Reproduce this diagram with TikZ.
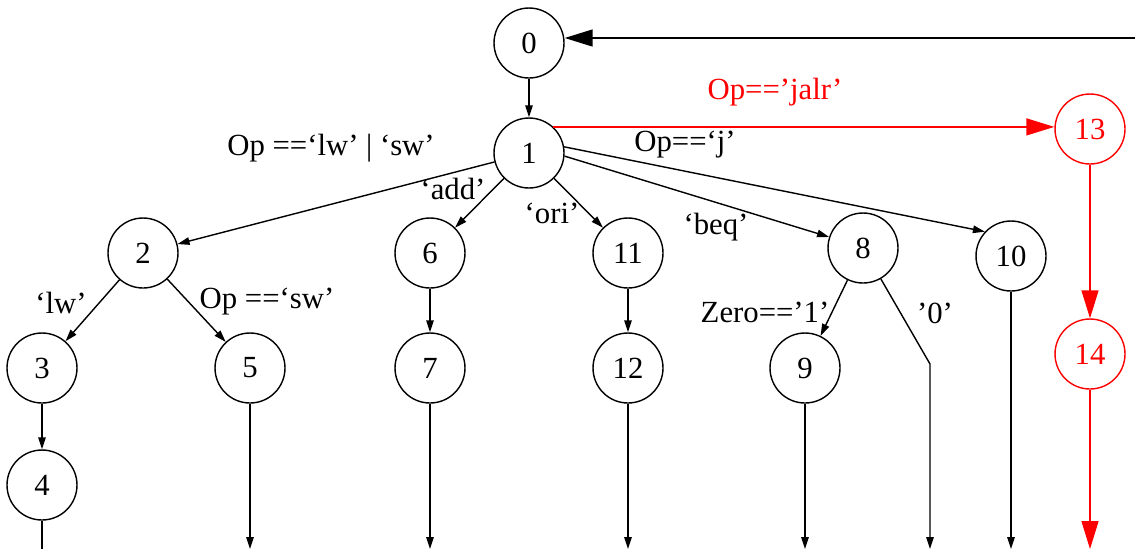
\documentclass[tikz,border=0pt]{standalone}
\usepackage{fontspec}
\setmainfont{Liberation Serif}
\usetikzlibrary{arrows.meta}
\tikzset{
	vert/.style={circle,inner sep=0pt,fill=white,draw,line width=0.8pt,minimum size=1.4cm,font=\fontsize{17.5}{20}\selectfont},
	redvert/.style={vert,draw=red,text=red},
	edge/.style={color=black,line width=0.8pt},
	diredge/.style={-{Triangle[length=0.24cm,width=0.15cm]},edge},
	bigedge/.style={-{Triangle[length=0.56cm,width=0.34cm]},edge},
	edgelabel/.style={inner sep=0pt,font=\fontsize{17.5}{20}\selectfont}
}

\begin{document}
\begin{tikzpicture}[x=0.02cm,y=-0.02cm]
				\useasboundingbox (0,0) rectangle (1135,549);
				%%%% states
				\node[vert] (s0) at (529,43) {0};
				\node[vert] (s1) at (529,153) {1};
				\node[vert] (s2) at (143,253) {2};
				\node[vert] (s6) at (430,253) {6};
				\node[vert] (s11) at (628,253) {11};
				\node[vert] (s8) at (863,248) {8};
				\node[vert] (s10) at (1011,256) {10};
				\node[vert] (s3) at (42,368) {3};
				\node[vert] (s5) at (250,368) {5};
				\node[vert] (s7) at (430,368) {7};
				\node[vert] (s12) at (628,368) {12};
				\node[vert] (s9) at (805,368) {9};
				\node[vert] (s4) at (42,485) {4};
				\node[redvert] (s13) at (1090,129) {13};
				\node[redvert] (s14) at (1090,354) {14};
				
				%%%% loose ends
				\coordinate (back) at (1135,38);
				\coordinate (bend0) at (930,364);
				\coordinate (bot) at (0,549);
				
				%%%% labels
				\node[edgelabel] (lmem) at (331,148) {Op ==‘lw’ | ‘sw’};
				\node[edgelabel] (ladd) at (453,189) {‘add’};
				\node[edgelabel] (lori) at (552,213) {‘ori’};
				\node[edgelabel] (lbeq) at (716,227) {‘beq’};
				\node[edgelabel] (lj) at (685,145) {Op==‘j’};
				\node[edgelabel,red] (ljalr) at (775,92) {Op==’jalr’};
				\node[edgelabel] (llw) at (61,303) {‘lw’};
				\node[edgelabel] (lsw) at (267,302) {Op ==‘sw’};
				\node[edgelabel] (lone) at (765,312) {Zero==’1’};
				\node[edgelabel] (lzero) at (935,313) {’0’};
				
				\draw[bigedge] (back) -- (back -| s0.east);
				\draw[diredge] (s0) -- (s1);
				\draw[diredge] (s1) -- (s2);
				\draw[diredge] (s1) -- (s6);
				\draw[diredge] (s1) -- (s11);
				\draw[diredge] (s1.-5) -- (s8.162);
				\draw[diredge] (s1.10) -- (s10.137);
				\draw[diredge] (s2) -- (s3);
				\draw[diredge] (s2) -- (s5);
				\draw[diredge] (s3) -- (s4);
				\draw[diredge] (s6) -- (s7);
				\draw[diredge] (s11) -- (s12);
				\draw[diredge] (s8) -- (s9);
				\draw[diredge] (s8) -- (bend0) -- (bend0 |- bot);
				
				\draw[edge] (s4) -- (s4 |- bot);
				\draw[diredge] (s5) -- (s5 |- bot);
				\draw[diredge] (s7) -- (s7 |- bot);
				\draw[diredge] (s12) -- (s12 |- bot);
				\draw[diredge] (s9) -- (s9 |- bot);
				\draw[diredge] (s10) -- (s10 |- bot);
				
				\draw[bigedge,red] (s1.47) -- (s1.47 -| s13.west);
				\draw[bigedge,red] (s13) -- (s14);
				\draw[bigedge,red] (s14) -- (s14 |- bot);
\end{tikzpicture}
\end{document}
